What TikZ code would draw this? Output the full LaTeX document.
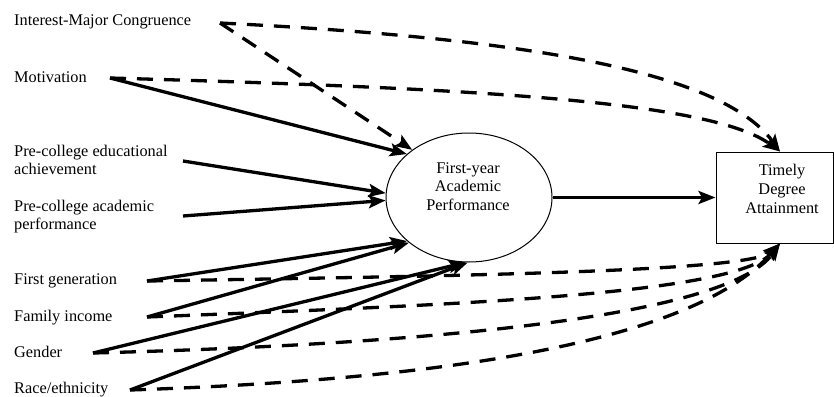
\documentclass[tikz,border=0pt]{standalone}
\usepackage{fontspec}
\setmainfont{Liberation Serif}
\usetikzlibrary{arrows.meta,shapes.geometric}
\begin{document}
\begin{tikzpicture}[x=1pt,y=-1pt,
  lbl/.style={anchor=base west,inner sep=0pt,font=\fontsize{16.3}{19}\selectfont},
  ctext/.style={align=center,inner sep=0pt,font=\fontsize{16.3}{18.8}\selectfont},
  solidarr/.style={line width=3.3pt,-{Stealth[length=17pt,width=13pt,inset=3.5pt]}},
  dasharr/.style={solidarr,dash pattern=on 16pt off 11pt},
  thinline/.style={draw,line width=1pt}]
\useasboundingbox (0,0) rectangle (834,396);

% labels
\node[lbl] (limc) at (14,26) {Interest-Major Congruence};
\node[lbl] (lmot) at (14,82) {Motivation};
\node[lbl] (lpea) at (14,156) {Pre-college educational};
\node[lbl] (lpea2) at (14,174.5) {achievement};
\node[lbl] (lpap) at (14,211) {Pre-college academic};
\node[lbl] (lpap2) at (14,229.5) {performance};
\node[lbl] (lfg) at (14,284) {First generation};
\node[lbl] (lfi) at (14,321) {Family income};
\node[lbl] (lgen) at (14,357) {Gender};
\node[lbl] (lrace) at (14,393) {Race/ethnicity};

% main shapes
\node[ellipse,thinline,minimum width=166pt,minimum height=129pt,inner sep=0pt] (fyap) at (469,197.5) {};
\node[ctext] (fyapt) at (468,186.5) {First-year\\Academic\\Performance};
\node[rectangle,thinline,minimum width=117pt,minimum height=91pt,inner sep=0pt] (tda) at (774.5,197.5) {};
\node[ctext] (tdat) at (782,189) {Timely\\Degree\\Attainment};

% start points
\coordinate (imc) at (220,23);
\coordinate (mot) at (110,78);
\coordinate (pea) at (183,161);
\coordinate (pap) at (183,216);
\coordinate (fg) at (147,281);
\coordinate (fi) at (147,317);
\coordinate (gen) at (93,353);
\coordinate (race) at (130,390);
\coordinate (ttop) at ([xshift=5.5pt]tda.north);
\coordinate (tbot) at ([xshift=5.5pt]tda.south);

% paths to first-year performance
\draw[dasharr] (imc) -- (fyap.140);
\draw[solidarr] (mot) -- (fyap.145);
\draw[solidarr] (pea) -- (fyap.177);
\draw[solidarr] (pap) -- (fyap.182);
\draw[solidarr] (fg) -- (fyap.215);
\draw[solidarr] (fi) -- (fyap.217);
\draw[solidarr] (gen) -- (fyap.267);
\draw[solidarr] (race) -- (fyap.269);

% main path
\draw[solidarr] (fyap.east) -- (tda.west);

% direct paths to degree attainment
\draw[dasharr] (imc) .. controls (520,38) and (720,70) .. (ttop);
\draw[dasharr] (mot) .. controls (460,88) and (710,100) .. (ttop);
\draw[dasharr] (fg) .. controls (450,276) and (750,272) .. (tbot);
\draw[dasharr] (fi) .. controls (450,305) and (735,295) .. (tbot);
\draw[dasharr] (gen) .. controls (400,345) and (725,320) .. (tbot);
\draw[dasharr] (race) .. controls (430,380) and (690,345) .. (tbot);
\end{tikzpicture}
\end{document}
